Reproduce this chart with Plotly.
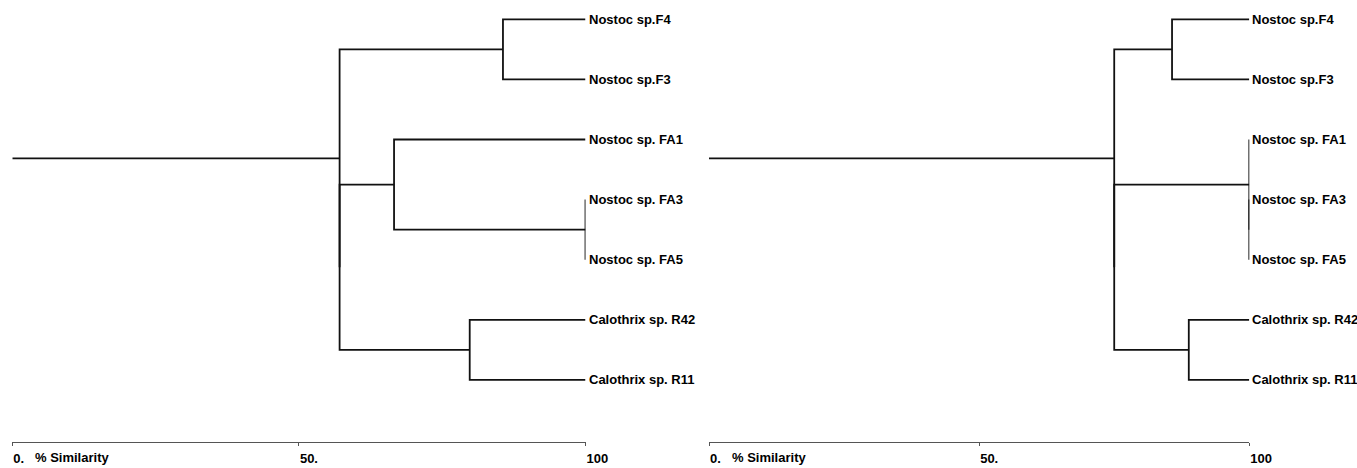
import plotly.graph_objects as go

# ---------------- data ----------------
leaf_labels = ["Nostoc sp.F4", "Nostoc sp.F3", "Nostoc sp. FA1", "Nostoc sp. FA3",
               "Nostoc sp. FA5", "Calothrix sp. R42", "Calothrix sp. R11"]
leaf_similarity = 100.0

# linkage rows: (child_a, child_b, % similarity); leaves 0..6, merged nodes 7, 8, ...
left_child_a = [0, 3, 2, 5, 9, 7]
left_child_b = [1, 4, 8, 6, 10, 11]
left_similarity = [85.6, 100.0, 66.6, 79.8, 57.1, 57.1]

right_child_a = [0, 3, 2, 5, 9, 7]
right_child_b = [1, 4, 8, 6, 10, 11]
right_similarity = [85.7, 100.0, 100.0, 88.8, 75.0, 75.0]

tick_values = [0, 50, 100]
tick_labels = ["0.", "50.", "100"]
axis_title = "% Similarity"


def dendro_segments(child_a, child_b, sims):
    n = len(leaf_labels)
    xs = {i: leaf_similarity for i in range(n)}
    ys = {i: float(i) for i in range(n)}
    X, Y = [], []
    for k, (a, b, s) in enumerate(zip(child_a, child_b, sims)):
        node = n + k
        X += [xs[a], s, s, xs[b], None]
        Y += [ys[a], ys[a], ys[b], ys[b], None]
        xs[node] = s
        ys[node] = (ys[a] + ys[b]) / 2.0
    root = n + len(sims) - 1
    X += [xs[root], 0, None]
    Y += [ys[root], ys[root], None]
    return X, Y


W, H = 1357, 468
font_fam = "Liberation Sans, Arial, sans-serif"
line_col = "#111111"

fig = go.Figure()
for xa, ya, ca, cb, sims in [("x", "y", left_child_a, left_child_b, left_similarity),
                             ("x2", "y2", right_child_a, right_child_b, right_similarity)]:
    X, Y = dendro_segments(ca, cb, sims)
    fig.add_trace(go.Scatter(x=X, y=Y, mode="lines", xaxis=xa, yaxis=ya,
                             line=dict(color=line_col, width=1.8),
                             cliponaxis=False, hoverinfo="skip", showlegend=False))

annotations = []
for xa, ya in [("x", "y"), ("x2", "y2")]:
    for i, lab in enumerate(leaf_labels):
        annotations.append(dict(
            x=leaf_similarity, y=i, xref=xa, yref=ya, text=lab, showarrow=False,
            xanchor="left", yanchor="middle", xshift=2, borderpad=0,
            font=dict(family=font_fam, size=13, color="#000000", weight="bold")))
    annotations.append(dict(
        x=0, y=0, xref=xa + " domain", yref="paper", text=axis_title, showarrow=False,
        xanchor="left", yanchor="top", xshift=21, yshift=-6,
        font=dict(family=font_fam, size=13, color="#000000", weight="bold")))

yrange = [7.033, -0.321]
xaxis_common = dict(range=[0, 100], showgrid=False, zeroline=False, showline=True,
                    linecolor="#555555", linewidth=1, ticks="outside", ticklen=3,
                    tickcolor="#555555", tickwidth=1, automargin=False,
                    tickvals=tick_values, ticktext=tick_labels,
                    ticklabelposition="outside right", ticklabelstandoff=4,
                    tickfont=dict(family=font_fam, size=13, color="#000000", weight="bold"))
yaxis_common = dict(range=yrange, visible=False, showgrid=False, zeroline=False)

fig.update_layout(
    width=W, height=H,
    margin=dict(l=0, r=0, t=0, b=26, autoexpand=False),
    paper_bgcolor="white", plot_bgcolor="white",
    xaxis=dict(domain=[12.3 / W, 585.5 / W], anchor="y", **xaxis_common),
    xaxis2=dict(domain=[709.0 / W, 1249.3 / W], anchor="y2", **xaxis_common),
    yaxis=dict(domain=[0, 1], anchor="x", **yaxis_common),
    yaxis2=dict(domain=[0, 1], anchor="x2", **yaxis_common),
    annotations=annotations,
)

fig.write_html(
    "out.html",
    config={"displayModeBar": False},
    post_script="document.body.style.margin='0';document.body.style.overflow='hidden';",
)
